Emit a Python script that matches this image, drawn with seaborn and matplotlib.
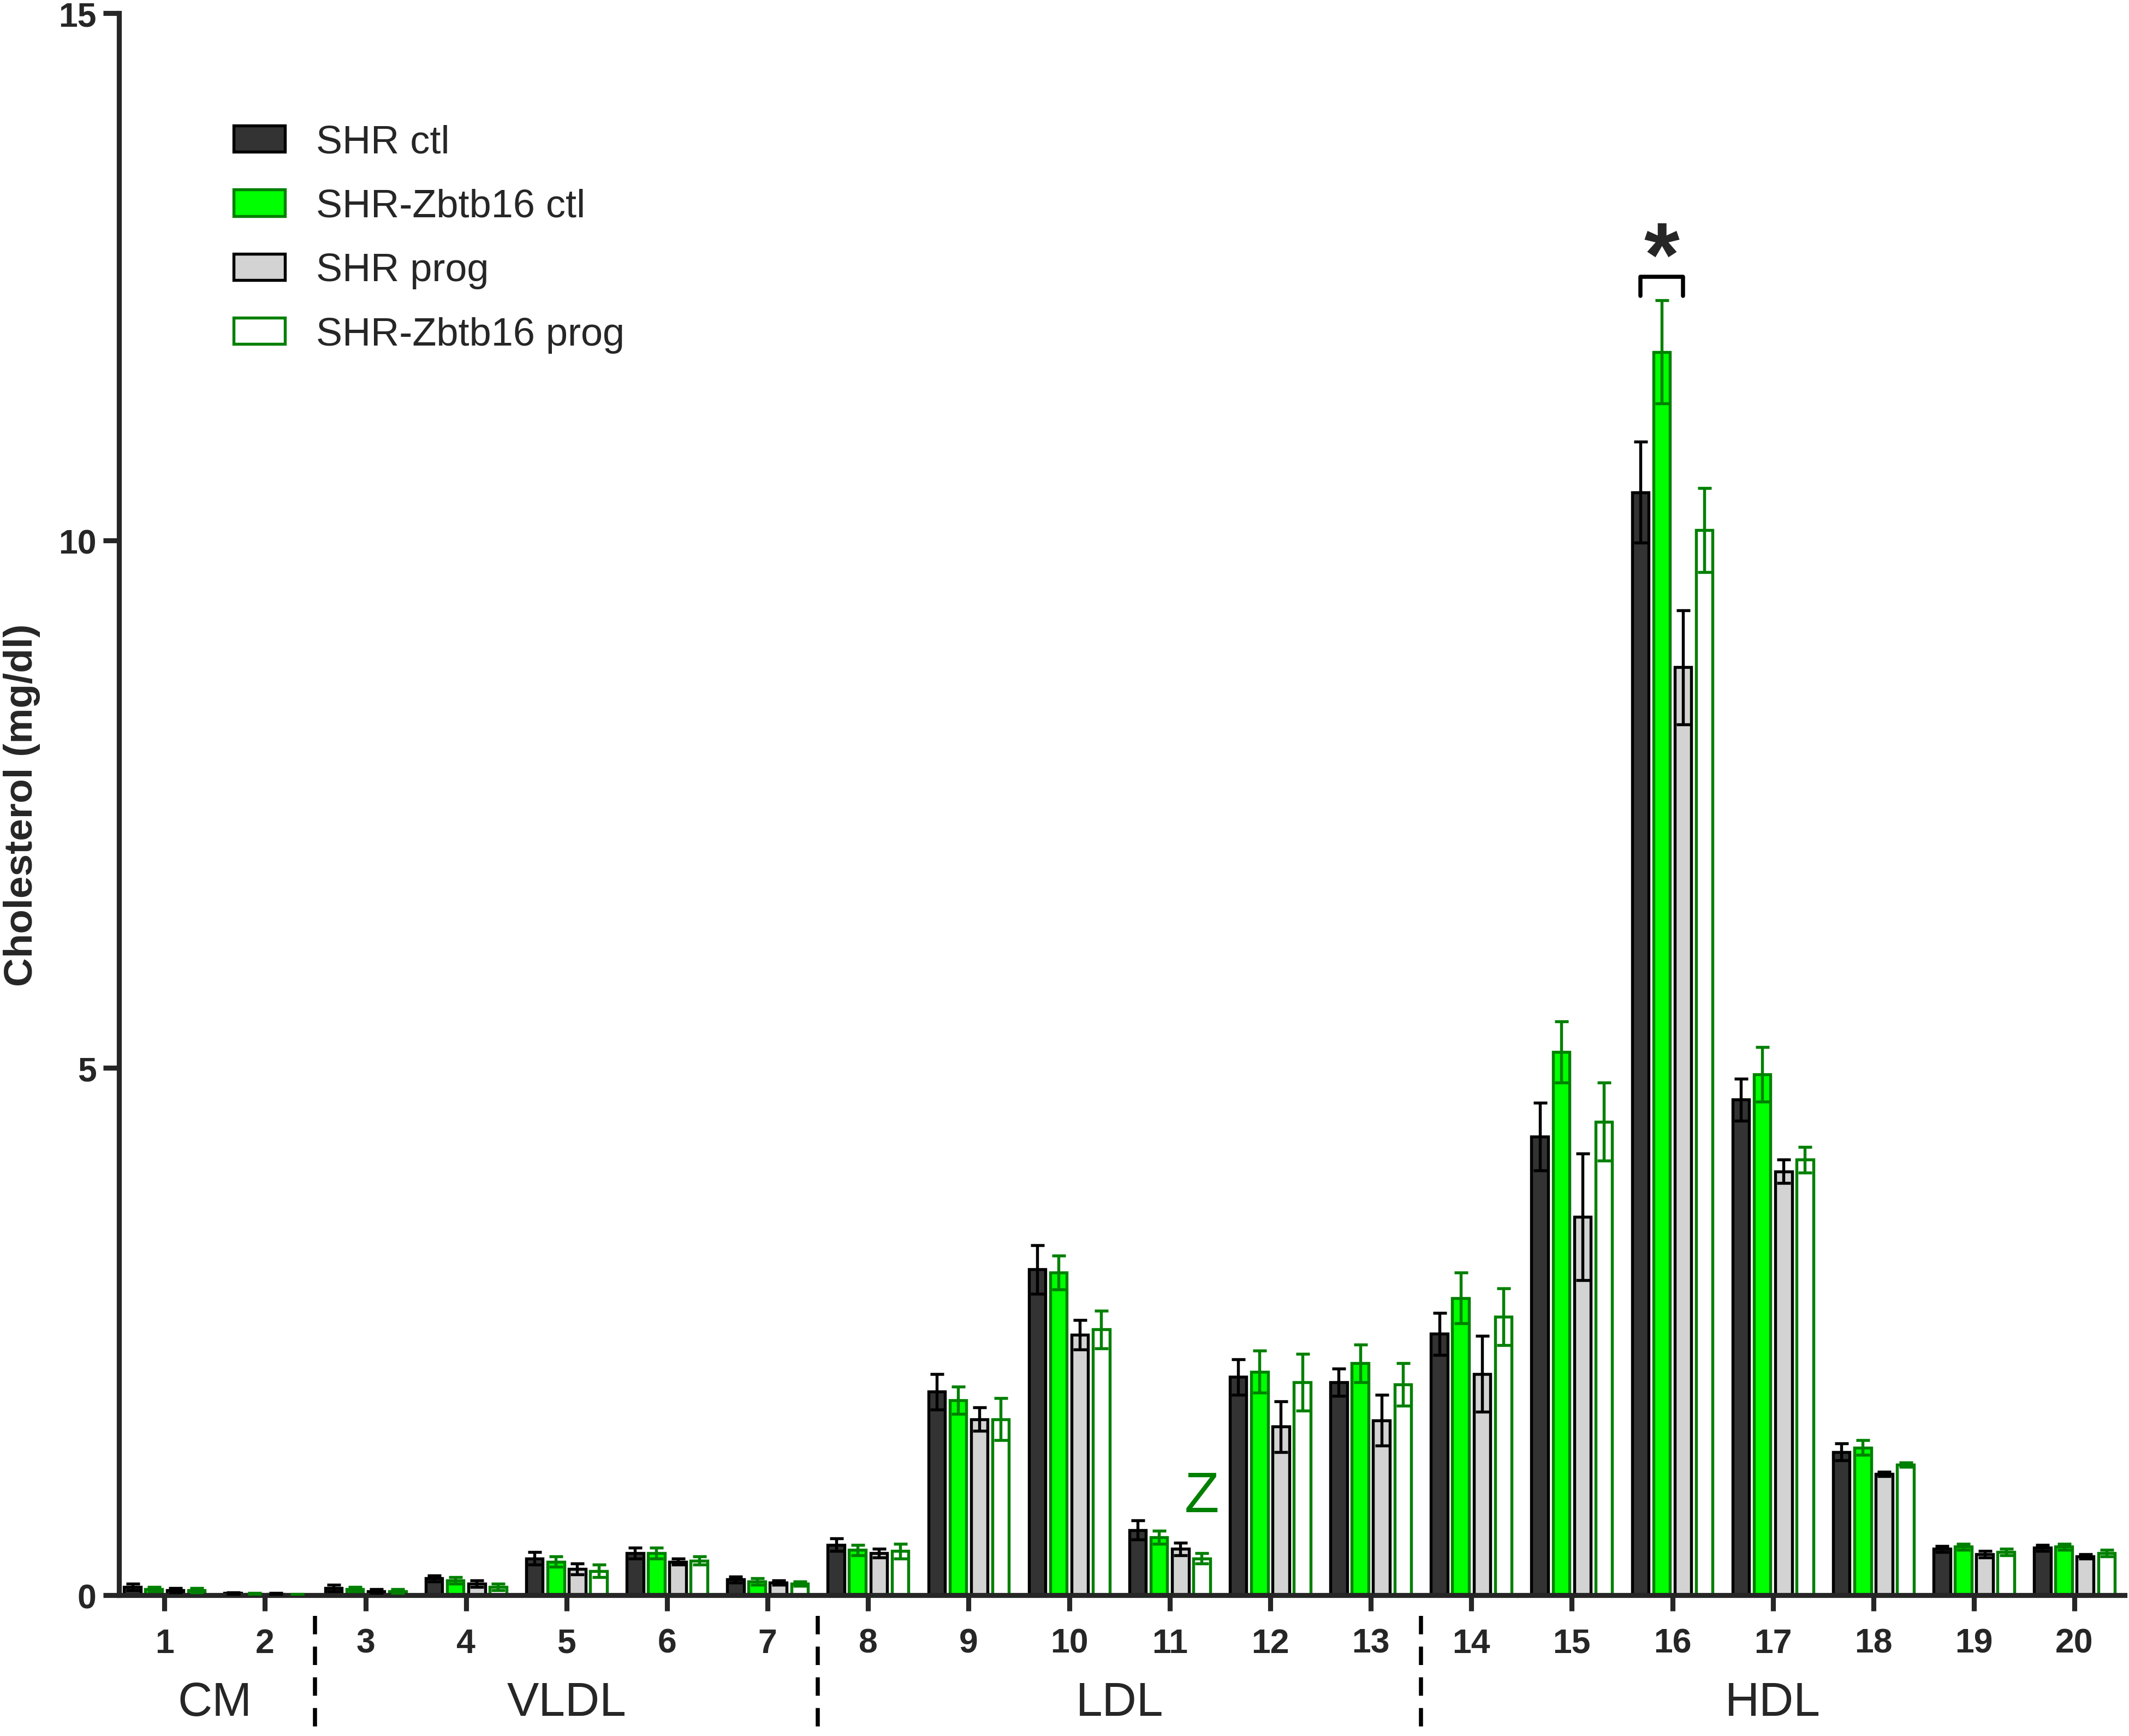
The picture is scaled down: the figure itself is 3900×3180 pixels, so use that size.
import matplotlib
matplotlib.use("Agg")
import matplotlib.pyplot as plt
import matplotlib.transforms as mtransforms
import seaborn as sns
import pandas as pd

# Fraction numbers and lipoprotein classes
fractions = [str(i) for i in range(1, 21)]
groups = ["SHR ctl", "SHR-Zbtb16 ctl", "SHR prog", "SHR-Zbtb16 prog"]
classes = ["CM", "VLDL", "LDL", "HDL"]
class_centers = [0.5, 4, 9.5, 16]      # middle fraction index of each class
class_borders = [1.5, 6.5, 12.5]

# Mean cholesterol (mg/dl) per fraction
shr_ctl = [0.08, 0.02, 0.07, 0.16, 0.35, 0.40, 0.15, 0.48, 1.93, 3.09,
           0.62, 2.07, 2.02, 2.48, 4.35, 10.46, 4.70, 1.36, 0.44, 0.45]
zb_ctl = [0.06, 0.01, 0.06, 0.14, 0.32, 0.40, 0.13, 0.43, 1.85, 3.06,
          0.55, 2.12, 2.20, 2.82, 5.15, 11.79, 4.94, 1.40, 0.46, 0.46]
shr_prog = [0.05, 0.01, 0.04, 0.11, 0.25, 0.32, 0.12, 0.40, 1.67, 2.47,
            0.44, 1.60, 1.66, 2.10, 3.59, 8.80, 4.02, 1.15, 0.39, 0.37]
zb_prog = [0.05, 0.005, 0.04, 0.08, 0.23, 0.33, 0.11, 0.42, 1.67, 2.52,
           0.35, 2.02, 2.00, 2.64, 4.49, 10.10, 4.13, 1.24, 0.41, 0.40]

# SEM
shr_ctl_err = [0.03, 0.01, 0.03, 0.03, 0.06, 0.05, 0.03, 0.06, 0.17, 0.23,
               0.09, 0.17, 0.13, 0.20, 0.32, 0.48, 0.20, 0.08, 0.03, 0.03]
zb_ctl_err = [0.02, 0.01, 0.02, 0.03, 0.05, 0.05, 0.03, 0.05, 0.13, 0.16,
              0.06, 0.20, 0.18, 0.24, 0.29, 0.49, 0.26, 0.07, 0.03, 0.03]
shr_prog_err = [0.02, 0.01, 0.02, 0.03, 0.05, 0.03, 0.02, 0.04, 0.11, 0.14,
                0.06, 0.24, 0.24, 0.36, 0.60, 0.54, 0.11, 0.02, 0.03, 0.02]
zb_prog_err = [0.02, 0.005, 0.02, 0.03, 0.06, 0.04, 0.02, 0.07, 0.20, 0.18,
               0.05, 0.27, 0.20, 0.27, 0.37, 0.40, 0.12, 0.02, 0.03, 0.03]

means = [shr_ctl, zb_ctl, shr_prog, zb_prog]
errs = [shr_ctl_err, zb_ctl_err, shr_prog_err, zb_prog_err]

fill_colors = ["#333333", "#00ff00", "#d3d3d3", "#ffffff"]
edge_colors = ["#000000", "#008000", "#000000", "#008000"]

rows = []
for g, vals in zip(groups, means):
    for f, v in zip(fractions, vals):
        rows.append({"fraction": f, "group": g, "value": v})
df = pd.DataFrame(rows)

sns.set_style("ticks")
plt.rcParams["font.family"] = ["Liberation Sans", "DejaVu Sans"]

fig = plt.figure(figsize=(13, 10.6033), dpi=300)
ax = fig.add_axes([0.056, 0.081, 0.942, 0.911])

sns.barplot(data=df, x="fraction", y="value", hue="group", hue_order=groups,
            order=fractions, palette=fill_colors, errorbar=None,
            width=0.85, gap=0.22, saturation=1, legend=False, ax=ax)

# edge colours + error bars per group
for cont, ec, err in zip(ax.containers, edge_colors, errs):
    xs, ys = [], []
    for p in cont.patches:
        p.set_edgecolor(ec)
        p.set_linewidth(1.3)
        xs.append(p.get_x() + p.get_width() / 2)
        ys.append(p.get_height())
    ax.errorbar(xs, ys, yerr=err, fmt="none", ecolor=ec, elinewidth=1.3,
                capsize=3, capthick=1.3, zorder=5)

ax.set_ylim(0, 15)
ax.set_xlim(-0.45, 19.5)
ax.set_yticks([0, 5, 10, 15])
ax.set_xlabel("")
ax.set_ylabel("Cholesterol (mg/dl)", fontsize=17.5, fontweight="bold", labelpad=8)

sns.despine(ax=ax)
for side in ["left", "bottom"]:
    ax.spines[side].set_linewidth(2.2)
ax.tick_params(axis="both", direction="out", length=7, width=2.2,
               labelsize=15)
ax.tick_params(axis="x", pad=7)
ax.tick_params(axis="y", pad=3)
for lab in ax.get_xticklabels() + ax.get_yticklabels():
    lab.set_fontweight("bold")

# class separators and class names under the axis
trans = mtransforms.blended_transform_factory(ax.transData, ax.transAxes)
for xb in class_borders:
    ax.plot([xb, xb], [-0.013, -0.1], transform=trans, color="black",
            lw=1.8, ls=(0, (4.5, 3)), clip_on=False)
for name, xc in zip(classes, class_centers):
    ax.text(xc, -0.068, name, transform=trans, ha="center", va="center",
            fontsize=21)

# significance bracket on fraction 16
i16 = fractions.index("16")
x_left = ax.containers[0].patches[i16].get_x() + ax.containers[0].patches[i16].get_width() / 2
x_right = ax.containers[2].patches[i16].get_x() + ax.containers[2].patches[i16].get_width() / 2
ax.plot([x_left, x_left, x_right, x_right], [12.32, 12.5, 12.5, 12.32],
        color="black", lw=1.8, clip_on=False)
ax.text((x_left + x_right) / 2, 12.42, "*", ha="center", va="baseline",
        fontsize=40, fontweight="bold")

# Z mark on fraction 11
i11 = fractions.index("11")
ax.text(i11 + 0.32, 0.93, "Z", ha="center", va="center", fontsize=25,
        color="#008000")

ax.legend(ax.containers, groups, loc="upper left",
          bbox_to_anchor=(0.057, 0.93), frameon=False, fontsize=17.3,
          handlelength=1.3, handleheight=0.65, handletextpad=0.8,
          labelspacing=0.7, borderpad=0, borderaxespad=0)

fig.savefig("out.png", dpi=300)
